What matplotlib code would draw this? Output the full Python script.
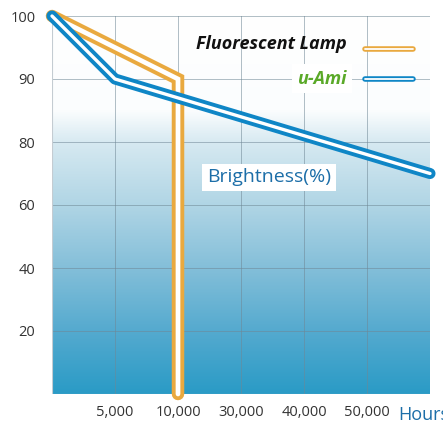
import numpy as np
import matplotlib
matplotlib.use("Agg")
import matplotlib.pyplot as plt
from matplotlib.colors import LinearSegmentedColormap

plt.rcParams['font.family'] = ['Open Sans', 'DejaVu Sans']

# axis breakpoints (the chart uses evenly spaced, non-linear ticks)
hour_stops = [0, 5000, 10000, 30000, 40000, 50000, 60000]
bright_stops = [0, 20, 40, 60, 80, 90, 100]
x_tick_labels = ['5,000', '10,000', '30,000', '40,000', '50,000']
y_tick_labels = ['20', '40', '60', '80', '90', '100']

# series
lamp_hours = [0, 10000, 10000]
lamp_bright = [100, 90, 0]
ami_hours = [0, 5000, 10000, 30000, 40000, 50000, 60000]
ami_bright = [100, 90, 87, 84, 81, 76, 70]

ORANGE = '#e9a93f'
BLUE = '#0f86c6'
GREEN = '#5aa928'


def hx(v):
    return np.interp(v, hour_stops, range(len(hour_stops)))


def hx_inv(v):
    return np.interp(v, range(len(hour_stops)), hour_stops)


def by(v):
    return np.interp(v, bright_stops, range(len(bright_stops)))


def by_inv(v):
    return np.interp(v, range(len(bright_stops)), bright_stops)


fig = plt.figure(figsize=(4.43, 4.21), dpi=100)
ax = fig.add_axes([52 / 443, 27 / 421, 378 / 443, 378 / 421])
ax.set_xscale('function', functions=(hx, hx_inv))
ax.set_yscale('function', functions=(by, by_inv))
ax.set_xlim(0, 60000)
ax.set_ylim(0, 100)

# background gradient (white at top -> blue at bottom), axes coords
stops = [0.0, 0.25, 0.335, 0.50, 0.666, 0.833, 1.0]
cols = ['#ffffff', '#fbfdfe', '#d6e9f1', '#b0d5e5', '#84bfd9', '#55aacf', '#2a9bc6']
cmap = LinearSegmentedColormap.from_list('bg', list(zip(stops, cols)))
grad = np.linspace(0, 1, 256).reshape(-1, 1)
ax.imshow(grad, cmap=cmap, aspect='auto', extent=[0, 1, 0, 1], origin='upper',
          transform=ax.transAxes, zorder=0)

ax.set_xticks(hour_stops[1:6])
ax.set_xticklabels(x_tick_labels)
ax.set_yticks(bright_stops[1:])
ax.set_yticklabels(y_tick_labels)
ax.tick_params(length=0, labelsize=10.5, labelcolor='#333333')
ax.tick_params(axis='y', pad=12)
ax.tick_params(axis='x', pad=8)
for s in ax.spines.values():
    s.set_visible(False)

for v in hour_stops[1:]:
    ax.axvline(v, color='#6f8795', lw=0.7, alpha=0.55, zorder=1)
for v in bright_stops[1:]:
    ax.axhline(v, color='#6f8795', lw=0.7, alpha=0.55, zorder=1)
ax.axvline(0, color='#c4ccd2', lw=0.8, zorder=1)
ax.axhline(0, color='#c4ccd2', lw=0.8, zorder=1)

# double lines: colored outline with white core
ax.plot(lamp_hours, lamp_bright, color=ORANGE, lw=9, solid_capstyle='round',
        solid_joinstyle='miter', zorder=3, clip_on=False)
ax.plot(lamp_hours, lamp_bright, color='white', lw=3.4, solid_capstyle='round',
        solid_joinstyle='miter', zorder=4, clip_on=False)
ax.plot(ami_hours, ami_bright, color=BLUE, lw=8, solid_capstyle='round',
        solid_joinstyle='round', zorder=5, clip_on=False)
ax.plot(ami_hours, ami_bright, color='white', lw=2.4, solid_capstyle='round',
        solid_joinstyle='round', zorder=6, clip_on=False)

# legend drawn by hand
ax.text(0.78, 0.926, 'Fluorescent Lamp', transform=ax.transAxes, ha='right',
        va='center', fontsize=13, fontweight='bold', fontstyle='italic',
        color='#111111', zorder=7)
ax.text(0.78, 0.834, 'u-Ami', transform=ax.transAxes, ha='right', va='center',
        fontsize=13, fontweight='bold', fontstyle='italic', color=GREEN, zorder=7,
        bbox=dict(boxstyle='square,pad=0.3', fc='white', ec='none'))
for yy, c in [(0.914, ORANGE), (0.834, BLUE)]:
    ax.plot([0.827, 0.955], [yy, yy], transform=ax.transAxes, color=c, lw=4,
            solid_capstyle='round', zorder=7)
    ax.plot([0.827, 0.955], [yy, yy], transform=ax.transAxes, color='white',
            lw=1.3, solid_capstyle='round', zorder=8)

ax.text(0.41, 0.573, 'Brightness(%)', transform=ax.transAxes, ha='left',
        va='center', fontsize=14, color='#1c6ea8', zorder=7,
        bbox=dict(boxstyle='square,pad=0.25', fc='white', ec='none'))

ax.annotate('Hours', xy=(0.915, 0), xycoords='axes fraction',
            xytext=(0, -9), textcoords='offset points', ha='left', va='top',
            fontsize=13, color='#1c6ea8', annotation_clip=False)

fig.savefig('out.png', dpi=100)
